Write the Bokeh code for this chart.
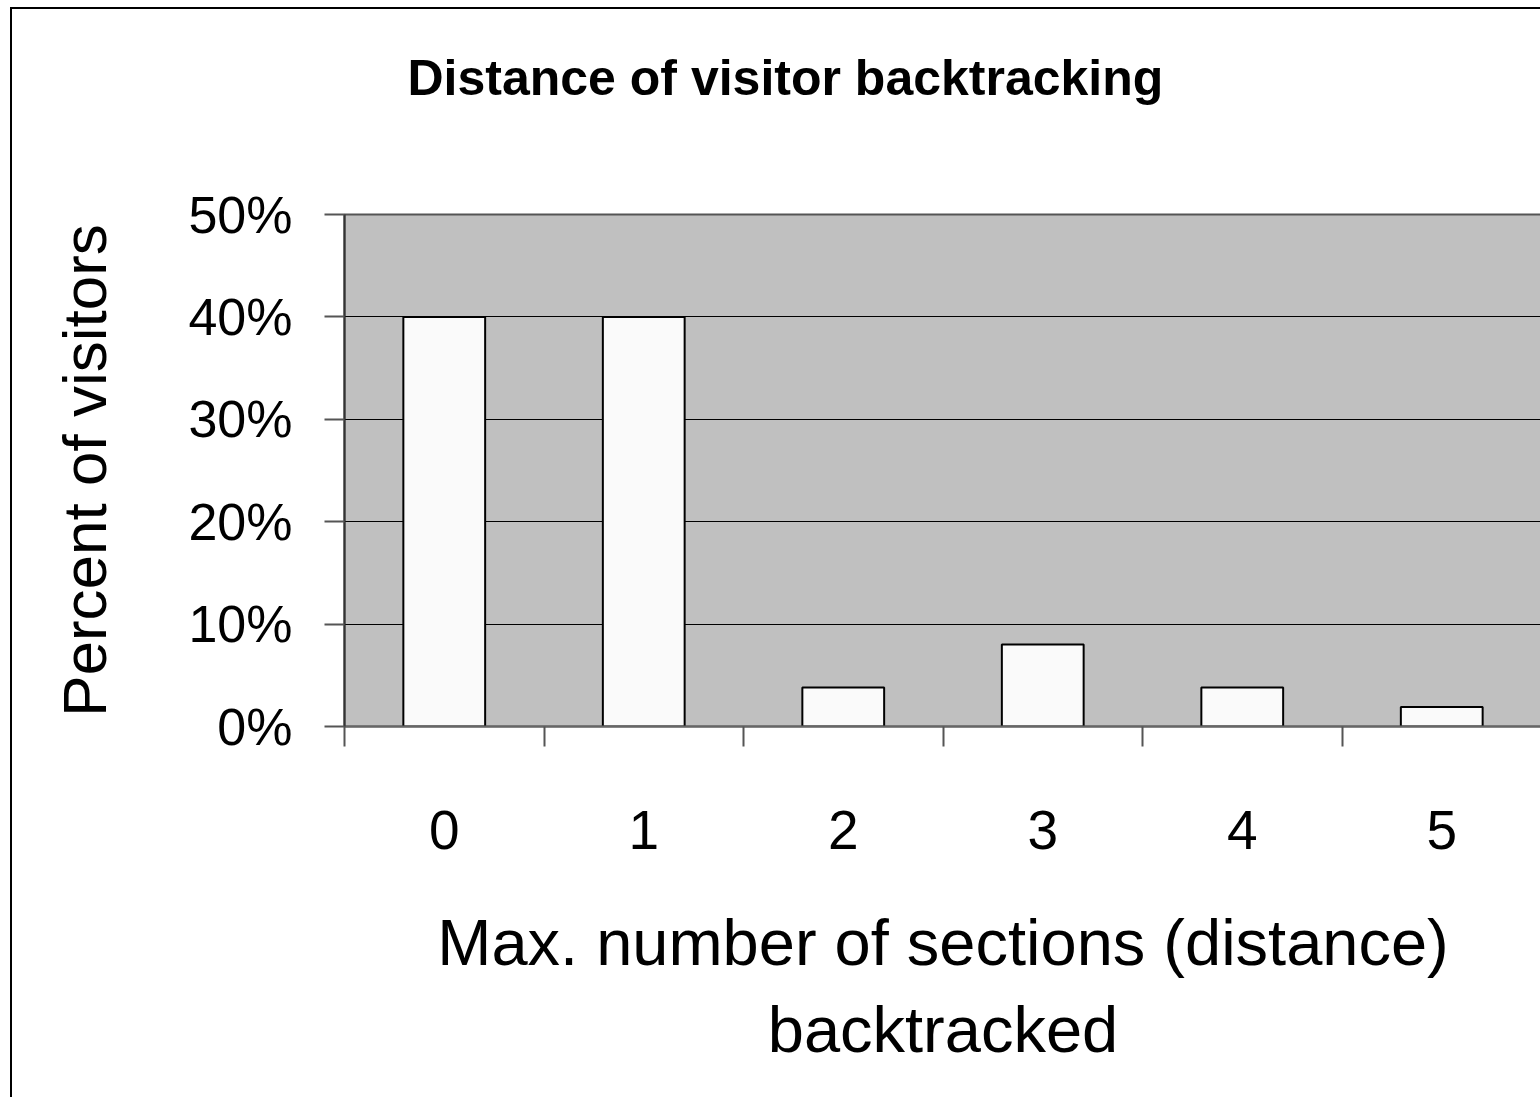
from bokeh.plotting import figure
from bokeh.models import FixedTicker, PrintfTickFormatter, CustomJSTickFormatter, Title, LinearAxis
from bokeh.embed import file_html
from bokeh.resources import INLINE

# Maximum number of sections backtracked, and share of visitors for each
distance = ["0", "1", "2", "3", "4", "5"]
percent_visitors = [40, 40, 3.8, 8, 3.8, 1.9]
y_ticks = [0, 10, 20, 30, 40, 50]

title_text = "Distance of visitor backtracking"
x_label = "Max. number of sections (distance)\nbacktracked"
y_label = "Percent of visitors"

FONT = "Liberation Sans"

xpos = list(range(len(distance)))

p = figure(
    title=None,
    width=1530, height=1090,
    margin=(7, 0, 0, 10),
    x_range=(-0.5, len(distance) - 0.5),
    y_range=(0, 50),
    output_backend="svg",
    toolbar_location=None,
    min_border_left=332, min_border_right=1,
    min_border_top=205, min_border_bottom=373,
    background_fill_color="#C0C0C0",
    border_fill_color="white",
    outline_line_color="#555555",
    outline_line_width=2,
    styles={"border-top": "2px solid #000000", "border-left": "2px solid #000000",
            "box-sizing": "border-box"},
)

p.vbar(x=xpos, top=percent_visitors, bottom=0, width=0.41,
       fill_color="#FAFAFA", line_color="#000000", line_width=2)

# Y axis
p.yaxis.ticker = FixedTicker(ticks=y_ticks)
p.yaxis.formatter = PrintfTickFormatter(format="%d%%")
p.yaxis.axis_line_color = "#333333"
p.yaxis.axis_line_width = 2
p.yaxis.major_tick_line_color = "#555555"
p.yaxis.major_tick_line_width = 2
p.yaxis.major_tick_out = 20
p.yaxis.major_tick_in = 0
p.yaxis.minor_tick_line_color = None
p.yaxis.major_label_text_font = FONT
p.yaxis.major_label_text_font_size = "52px"
p.yaxis.major_label_text_color = "#000000"
p.yaxis.major_label_standoff = 32
p.yaxis.axis_label = y_label
p.yaxis.axis_label_text_font = FONT
p.yaxis.axis_label_text_font_size = "62px"
p.yaxis.axis_label_text_font_style = "normal"
p.yaxis.axis_label_text_color = "#000000"
p.yaxis.axis_label_standoff = 66

# X axis: labels at category centres, ticks on category boundaries
xaxis = p.below[0]
xaxis.ticker = FixedTicker(ticks=xpos,
                           minor_ticks=[i - 0.5 for i in range(len(distance) + 1)])
xaxis.formatter = CustomJSTickFormatter(
    args=dict(labels=distance), code="return labels[Math.round(tick)];")
xaxis.axis_line_color = "#666666"
xaxis.axis_line_width = 2
xaxis.major_tick_line_color = None
xaxis.major_tick_out = 20
xaxis.minor_tick_line_color = "#555555"
xaxis.minor_tick_line_width = 2
xaxis.minor_tick_out = 20
xaxis.minor_tick_in = 0
xaxis.major_label_text_font = FONT
xaxis.major_label_text_font_size = "55px"
xaxis.major_label_text_color = "#000000"
xaxis.major_label_standoff = 64
xaxis.axis_label = x_label
xaxis.axis_label_text_font = FONT
xaxis.axis_label_text_font_size = "65px"
xaxis.axis_label_text_font_style = "normal"
xaxis.axis_label_text_color = "#000000"
xaxis.axis_label_text_align = "center"
xaxis.axis_label_standoff = 54

# Transparent axis above the frame: its single invisible tick reserves the
# empty band between the plot area and the title
gap = LinearAxis(ticker=FixedTicker(ticks=[2.5], minor_ticks=[]),
                 formatter=CustomJSTickFormatter(code="return '';"),
                 major_tick_out=104, major_tick_in=0,
                 major_tick_line_color="#FFFFFF", major_tick_line_alpha=0.0,
                 axis_line_color=None, minor_tick_line_color=None,
                 major_label_text_font_size="0px", major_label_standoff=0)
p.add_layout(gap, "above")

# Chart title
p.add_layout(Title(text=title_text, text_font=FONT, text_font_size="50px",
                   text_font_style="bold", text_color="#000000",
                   align="left", offset=63, standoff=10), "above")

# Grid
p.xgrid.grid_line_color = None
p.ygrid.grid_line_color = "#000000"
p.ygrid.grid_line_width = 1

open("out.html", "w").write(file_html(p, INLINE))
